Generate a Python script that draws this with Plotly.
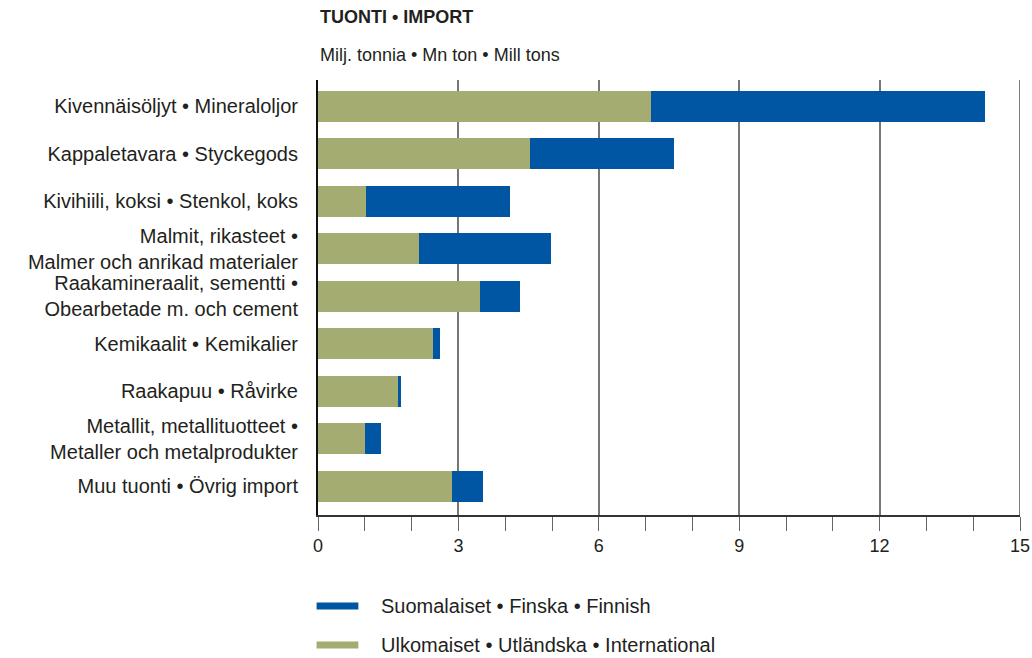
import plotly.graph_objects as go

categories = [
    "Kivennäisöljyt • Mineraloljor",
    "Kappaletavara • Styckegods",
    "Kivihiili, koksi • Stenkol, koks",
    "Malmit, rikasteet •<br>Malmer och anrikad materialer",
    "Raakamineraalit, sementti •<br>Obearbetade m. och cement",
    "Kemikaalit • Kemikalier",
    "Raakapuu • Råvirke",
    "Metallit, metallituotteet •<br>Metaller och metalprodukter",
    "Muu tuonti • Övrig import",
]
international = [7.12, 4.53, 1.03, 2.16, 3.46, 2.46, 1.73, 1.00, 2.86]
finnish = [7.13, 3.08, 3.07, 2.82, 0.86, 0.15, 0.04, 0.35, 0.67]
series_names = ["Suomalaiset • Finska • Finnish", "Ulkomaiset • Utländska • International"]

BLUE = "#0056A2"
GREEN = "#A4AC72"
TXT = "#231F20"
FONT = "Liberation Sans, Arial, sans-serif"
FS = 20

fig = go.Figure()
fig.add_trace(go.Bar(y=categories, x=international, orientation="h", marker_color=GREEN,
                     width=0.65, name=series_names[1], showlegend=False, marker_line_width=0))
fig.add_trace(go.Bar(y=categories, x=finnish, orientation="h", marker_color=BLUE,
                     width=0.65, name=series_names[0], showlegend=False, marker_line_width=0))

annotations = [
    dict(text="<b>TUONTI • IMPORT</b>", x=0, y=1, xref="paper", yref="paper",
         xanchor="left", yanchor="middle", yshift=63, showarrow=False,
         font=dict(size=18, color=TXT)),
    dict(text="Milj. tonnia • Mn ton • Mill tons", x=0, y=1, xref="paper", yref="paper",
         xanchor="left", yanchor="middle", yshift=25, showarrow=False,
         font=dict(size=18, color=TXT)),
]

# manual legend
shapes = []
leg_colors = [BLUE, GREEN]
leg_y = [-0.209, -0.299]
for name, col, ly in zip(series_names, leg_colors, leg_y):
    shapes.append(dict(type="line", xref="paper", yref="paper", x0=-0.002, x1=0.0575,
                       y0=ly, y1=ly, line=dict(color=col, width=7)))
    annotations.append(dict(text=name, x=0.0869, y=ly, xref="paper", yref="paper",
                            xanchor="left", yanchor="middle", showarrow=False,
                            font=dict(size=FS, color=TXT)))
shapes.append(dict(type="line", xref="x", yref="paper", x0=15, x1=15, y0=0, y1=1,
                   line=dict(color="#555555", width=1.5)))

fig.update_layout(
    barmode="stack",
    width=1032, height=658,
    margin=dict(l=318, r=12, t=80, b=143, autoexpand=False),
    plot_bgcolor="white", paper_bgcolor="white",
    font=dict(family=FONT, size=FS, color=TXT),
    showlegend=False,
    annotations=annotations,
    shapes=shapes,
)
fig.update_xaxes(
    range=[0, 15], tick0=0, dtick=3, showgrid=True, gridcolor="#777777", gridwidth=1.5,
    ticks="outside", ticklen=14, tickcolor="#666666", tickwidth=1,
    showline=True, linecolor="#333333", linewidth=1.5, zeroline=False,
    tickfont=dict(size=18, color=TXT), automargin=False,
    minor=dict(dtick=1, ticks="outside", ticklen=14, tickcolor="#666666", showgrid=False),
)
fig.update_yaxes(
    range=[8.6, -0.55], showgrid=False, showline=True, linecolor="#111111", linewidth=2,
    ticks="", ticklabelstandoff=14, tickfont=dict(size=FS, color=TXT),
    zeroline=False, automargin=False,
)

fig.write_html("out.html", post_script="document.body.style.margin='0';",
               config={"displayModeBar": False})
